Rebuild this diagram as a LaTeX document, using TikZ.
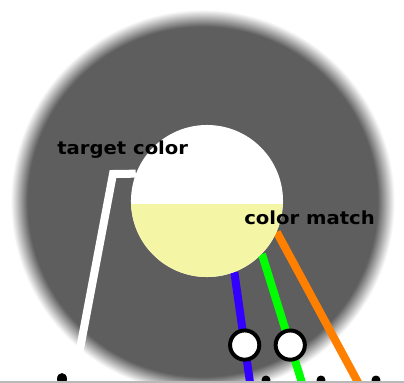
\documentclass[tikz,border=0pt]{standalone}
\usepackage{fontspec}
\setmainfont{DejaVu Sans}
\newfontfamily\lblfont{DejaVu Sans}[FakeStretch=1.09]
\usetikzlibrary{positioning,backgrounds}
\definecolor{halogray}{RGB}{94,94,94}
\definecolor{matchyellow}{RGB}{245,245,166}
\definecolor{probeblue}{RGB}{51,0,255}
\definecolor{probegreen}{RGB}{0,255,0}
\definecolor{probeorange}{RGB}{255,128,0}
\pgfdeclareradialshading{halo}{\pgfpointorigin}{color(0bp)=(halogray); color(22.6bp)=(halogray); color(24.8bp)=(white); color(50bp)=(white)}

\begin{document}
\begin{tikzpicture}[
  x=0.025cm, y=-0.025cm,
  font=\lblfont\fontsize{12.8pt}{15pt}\selectfont\bfseries,
  lbl/.style={anchor=base west, inner sep=0pt},
  probe/.style={line width=5.7pt},
  ring/.style={circle, draw=black, fill=white, line width=2.8pt, minimum size=0.73cm, inner sep=0pt},
  sample/.style={circle, fill=white, minimum size=3.8cm, inner sep=0pt,
    path picture={\fill[matchyellow] ([yshift=-0.075cm]path picture bounding box.west) rectangle (path picture bounding box.south east);}},
  stub/.style={fill=black}
]
  \useasboundingbox (0,0) rectangle (404,383);
  \begin{scope}[on background layer]
    \shade[shading=halo] (202.5,201.5) circle (193.5);
  \end{scope}
  \node[sample] (sample) at (207,201) {};

  \coordinate (bend) at (113,174);
  \coordinate (targetend) at (73,386);
  \coordinate (blueend) at (250.5,386);
  \coordinate (greenend) at (303,386);
  \coordinate (orangeend) at (360,386);

  \begin{scope}[on background layer]
    \draw[probe, white, line join=miter] (sample.159) -- (bend) -- (targetend);
    \draw[probe, probeblue] (sample.-69) -- node[ring, pos=0.64] (ringa) {} (blueend);
    \draw[probe, probegreen] (sample.-44) -- node[ring, pos=0.69] (ringb) {} (greenend);
    \draw[probe, probeorange] (sample.-24) -- (orangeend);
  \end{scope}

  \node[lbl] (target) at (57,154) {target color};
  \node[lbl] (match) at (244,224.5) {color match};

  \fill[stub] (62,379) ellipse [x radius=5, y radius=6];
  \fill[stub] (266,380) circle (4.5);
  \fill[stub] (321,380) circle (4.5);
  \fill[stub] (376,380) circle (4.5);
  \fill[gray!55] (0,380.5) rectangle (404,383);
\end{tikzpicture}
\end{document}
